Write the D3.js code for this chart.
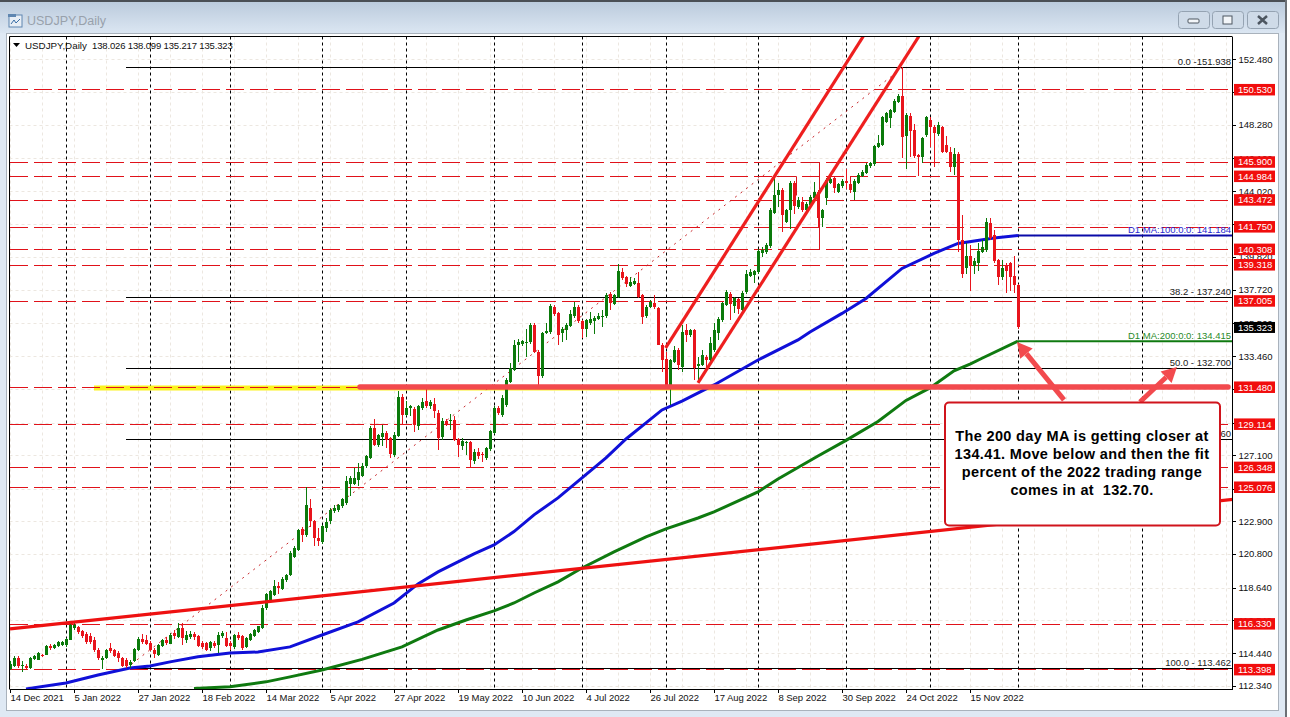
<!DOCTYPE html>
<html>
<head>
<meta charset="utf-8">
<script src="https://cdn.jsdelivr.net/npm/d3@7"></script>
<style>
  html, body { margin: 0; padding: 0; background: #fff; overflow: hidden; }
  svg { display: block; }
  text { font-family: "Liberation Sans", Arial, sans-serif; }
  .tick text { font-size: 9.5px; fill: #111; letter-spacing: -0.05px; }
  .tick line, .domain { stroke: #000; shape-rendering: crispEdges; }
</style>
</head>
<body>
<div id="chart"></div>
<script>
// daily candles, one row = 10 bars
const opens = [
  113.42,113.64,114.13,113.6,113.64,113.49,114.06,114.02,114.34,114.34,
  114.92,114.77,114.92,114.98,114.98,115.3,116.05,116.11,115.83,115.69,
  115.56,115.3,114.66,114.02,114.13,114.77,114.62,114.45,114.13,114.02,
  113.7,113.92,114.66,115.34,115.3,115.09,114.66,114.34,114.92,115.3,
  115.05,115.73,115.47,116.05,115.26,115.47,115.66,115.51,115.09,115.09,
  114.77,115.09,114.98,115.51,115.41,115.09,114.81,115.62,115.51,114.83,
  115.26,115.56,115.77,116.05,117.33,117.86,118.18,118.71,118.54,119.1,
  119.46,120.59,121.06,122.38,122.02,123.73,122.87,121.81,121.55,122.45,
  122.87,123.51,123.62,123.83,124.05,125.29,125.29,125.54,125.8,126.39,
  126.93,128.85,127.78,128.27,128.53,128.21,127.14,128.36,130.87,129.7,
  130.13,130.09,129.0,130.13,130.55,130.23,130.41,129.81,128.27,129.27,
  129.27,129.38,128.14,127.67,127.89,127.93,126.71,127.33,127.2,126.93,
  127.5,128.53,130.13,129.7,130.34,131.83,132.58,134.18,134.25,134.29,
  134.33,135.46,133.75,132.16,134.93,134.97,136.63,136.21,134.93,135.1,
  135.4,136.0,136.57,135.68,135.18,135.57,135.68,135.85,135.93,136.0,
  137.45,136.81,137.27,138.87,138.51,137.96,138.09,138.13,137.38,136.0,
  136.63,136.85,136.53,134.18,133.29,131.62,133.11,133.86,132.79,135.14,
  134.78,135.1,132.8,132.9,133.43,133.22,133.86,134.93,135.78,136.74,
  137.45,136.68,137.1,136.42,137.53,138.6,138.66,138.81,140.05,140.11,
  140.52,142.65,143.74,144.1,142.07,142.78,144.57,143.03,143.35,142.78,
  143.14,143.57,143.99,142.29,143.57,144.57,144.85,143.99,144.36,144.68,
  144.49,143.99,144.53,144.98,145.21,145.6,145.77,146.83,146.98,148.47,
  148.69,149.11,149.75,150.12,147.56,148.84,147.94,146.34,146.19,147.62,
  148.58,148.15,147.68,148.11,146.98,146.55,145.59,146.4,140.9,139.09,
  139.88,139.2,139.41,140.15,140.26,141.97,141.22,139.58,138.55,139.3,
  139.41,138.6,138.026
];
const highs = [
  113.91,114.24,114.24,113.95,113.77,114.2,114.3,114.5,114.4,114.95,
  115.0,115.05,115.2,115.2,115.4,116.37,116.35,116.2,115.95,115.8,
  115.7,115.45,114.75,114.25,114.7,115.08,114.7,114.55,114.2,114.1,
  114.0,114.75,115.45,115.69,115.62,115.2,114.75,115.05,115.35,115.45,
  115.7,115.95,116.37,116.37,115.83,115.83,115.8,115.6,115.2,115.15,
  115.2,115.2,115.77,115.85,115.77,115.2,115.65,115.77,115.6,115.5,
  115.75,116.0,116.2,117.5,118.3,118.45,119.14,119.0,119.3,119.5,
  120.95,121.3,122.4,122.5,125.07,124.32,122.95,122.45,122.65,123.09,
  123.7,123.95,124.0,124.4,125.76,125.76,126.29,126.61,126.6,127.15,
  128.95,129.42,128.5,129.06,128.65,128.3,128.57,131.2,131.0,130.55,
  130.3,130.2,130.3,130.77,131.34,130.62,130.77,130.0,129.49,129.4,
  129.74,129.6,128.2,128.21,128.0,128.0,127.5,127.57,127.3,127.65,
  128.75,130.25,130.25,130.95,132.05,133.0,134.5,134.54,134.5,135.18,
  135.6,135.57,133.85,135.0,135.57,136.8,136.74,136.3,135.3,135.55,
  136.38,136.95,136.74,135.75,135.85,136.31,136.0,136.21,136.42,137.5,
  137.55,137.45,139.34,139.09,138.6,138.51,138.45,138.81,137.45,136.7,
  137.02,137.38,136.6,134.29,133.75,133.3,134.08,133.95,135.46,135.53,
  135.18,135.2,133.43,133.86,133.55,134.71,135.57,135.95,136.95,137.66,
  137.55,137.25,137.2,137.6,138.98,139.02,139.0,140.3,140.45,140.73,
  142.93,144.95,144.53,144.2,142.9,144.65,144.65,143.67,143.67,143.3,
  143.75,144.63,144.1,142.9,144.85,144.9,144.95,144.55,144.8,145.42,
  144.6,144.8,145.15,145.35,145.8,145.9,147.0,147.62,148.85,149.11,
  149.3,149.9,150.24,151.94,149.0,149.05,148.33,146.4,147.5,148.84,
  148.79,148.25,148.47,148.2,147.56,146.83,146.77,146.55,142.5,140.69,
  140.58,139.73,140.69,140.9,142.29,142.29,141.54,139.7,139.62,139.4,
  139.5,139.88,138.099
];
const lows = [
  113.38,113.55,113.49,113.2,113.34,113.45,114.0,114.0,114.2,114.3,
  114.66,114.7,114.85,114.9,114.85,115.25,115.9,115.65,115.4,115.05,
  115.0,114.5,114.02,113.42,114.05,114.45,114.2,113.9,113.55,113.5,
  113.47,113.85,114.6,115.0,114.95,114.55,114.12,114.25,114.85,114.95,
  115.0,115.35,115.4,114.98,115.09,115.35,115.3,114.8,114.7,114.55,
  114.55,114.75,114.45,115.4,114.85,114.66,114.7,115.3,114.62,114.75,
  115.2,115.5,115.7,116.0,117.2,117.75,118.1,118.2,118.45,119.0,
  119.4,120.5,120.95,121.55,121.9,122.5,121.27,121.27,121.45,122.2,
  122.7,123.4,123.5,123.7,123.95,124.48,125.2,125.12,125.7,126.3,
  126.85,127.7,127.65,127.67,127.57,126.93,127.0,128.3,129.06,129.6,
  129.64,128.57,128.74,130.0,130.15,130.1,129.49,127.46,128.1,129.0,
  128.74,128.0,126.97,127.46,127.14,126.35,126.57,126.9,126.65,126.82,
  127.4,128.45,129.7,129.55,130.2,131.75,132.5,133.1,134.1,133.43,
  134.2,133.65,131.62,132.05,134.85,134.9,136.05,134.18,134.39,134.5,
  135.3,135.9,135.6,134.61,134.71,135.45,134.89,135.75,135.31,135.9,
  136.42,136.7,137.15,138.35,137.87,137.85,138.0,137.15,135.53,135.9,
  136.55,136.5,134.14,132.47,131.5,130.34,133.0,132.58,132.47,134.39,
  134.65,131.94,131.73,132.8,132.58,133.1,133.75,134.5,135.65,136.65,
  135.78,136.21,136.17,136.3,137.45,138.5,138.13,138.7,139.83,140.0,
  140.4,142.55,143.03,141.43,141.95,141.58,142.57,142.9,142.7,142.65,
  143.0,143.45,141.71,141.75,143.14,144.45,143.89,143.9,144.25,144.14,
  143.89,143.46,144.45,144.9,145.1,145.5,145.65,146.75,146.9,148.35,
  148.05,149.0,149.65,146.13,145.42,146.23,146.15,144.97,145.85,147.5,
  146.87,145.59,147.55,146.45,146.45,145.27,145.06,140.15,138.45,138.73,
  137.6,138.73,138.88,140.05,140.15,140.9,139.4,138.02,138.34,137.49,
  137.6,137.49,135.217
];
const closes = [
  113.77,114.13,113.6,113.7,113.49,114.13,114.24,114.45,114.28,114.92,
  114.77,114.98,115.15,115.15,115.34,116.22,116.22,115.77,115.56,115.15,
  115.15,114.62,114.13,114.13,114.66,114.55,114.28,114.13,113.64,113.6,
  113.85,114.7,115.37,115.15,115.05,114.66,114.4,114.98,115.26,115.09,
  115.62,115.51,116.05,115.41,115.62,115.69,115.45,114.87,114.81,114.66,
  115.13,114.87,115.62,115.73,114.92,114.87,115.58,115.41,114.77,115.41,
  115.69,115.9,116.15,117.33,118.22,118.39,118.76,118.61,119.18,119.46,
  120.85,121.17,122.34,122.02,123.94,122.87,121.81,121.6,122.55,122.81,
  123.62,123.73,123.94,124.3,125.43,125.65,125.65,126.01,126.44,127.03,
  128.85,127.78,128.42,128.53,128.1,127.2,128.42,130.87,129.7,130.13,
  130.23,129.06,130.23,130.49,130.28,130.49,129.91,128.21,129.27,129.13,
  129.38,128.1,127.78,127.99,127.93,126.82,127.31,127.03,127.12,127.57,
  128.63,130.13,129.81,130.77,131.94,132.69,134.18,134.39,134.4,134.39,
  135.46,133.75,132.16,134.93,135.08,136.68,136.17,134.82,135.21,135.46,
  136.17,136.63,135.72,135.18,135.74,135.82,135.89,136.0,136.0,137.38,
  136.85,137.38,138.92,138.45,138.09,138.23,138.28,137.27,135.95,136.63,
  136.95,136.59,134.18,133.18,131.62,133.18,133.86,132.9,135.03,134.82,
  135.14,132.69,132.94,133.54,133.22,134.29,135.1,135.85,136.85,137.53,
  136.78,137.17,136.46,137.49,138.73,138.83,138.92,140.2,140.26,140.58,
  142.78,143.78,144.1,142.5,142.82,144.57,143.08,143.46,142.82,143.21,
  143.67,143.99,142.29,142.82,144.74,144.78,144.21,144.46,144.7,144.53,
  144.06,144.7,145.06,145.27,145.7,145.81,146.92,147.13,148.75,149.01,
  149.22,149.82,150.12,147.51,148.9,147.9,146.28,146.23,147.41,148.75,
  148.11,147.77,148.26,146.55,146.55,145.59,146.4,140.86,138.73,139.88,
  139.2,139.52,140.2,140.47,142.07,141.01,139.52,138.55,139.09,138.88,
  138.55,138.02,135.323
];

// moving averages as [bar, price]
const ma100 = [[4,112.15],[14,112.53],[22,113.04],[30,113.49],[35,113.62],[40,113.88],[47,114.2],[55,114.45],[62,114.51],[70,114.84],[78,115.6],[87,116.44],[96,117.65],[102,118.87],[107,119.64],[116,120.79],[121,121.37],[126,122.22],[131,123.29],[137,124.38],[143,125.66],[149,126.94],[154,128.15],[159,129.18],[163,130.01],[168,130.58],[176,131.61],[187,133.21],[197,134.49],[200,135.0],[208,136.19],[214,137.15],[223,139.07],[231,140.03],[237,140.67],[246,141.02],[252,141.184]];
const ma200 = [[46,112.17],[55,112.28],[64,112.6],[70,112.92],[78,113.36],[88,114.04],[98,114.84],[107,115.92],[114,116.56],[121,117.14],[126,117.65],[131,118.29],[137,119.0],[143,119.89],[151,120.92],[159,121.88],[164,122.39],[172,123.09],[176,123.48],[187,124.76],[192,125.59],[202,127.06],[209,128.06],[217,129.27],[224,130.62],[230,131.42],[236,132.51],[240,132.95],[243,133.32],[252,134.415]];

const timeTickBars = [0,16,32,48,64,80,96,112,128,144,160,176,192,208,224,240];
const timeLabels = ["14 Dec 2021","5 Jan 2022","27 Jan 2022","18 Feb 2022","14 Mar 2022","5 Apr 2022","27 Apr 2022","19 May 2022","10 Jun 2022","4 Jul 2022","26 Jul 2022","17 Aug 2022","8 Sep 2022","30 Sep 2022","24 Oct 2022","15 Nov 2022"];
const monthStartBars = [14,35,55,78,99,121,143,164,187,209,230,252,283];
const gridBars = d3.range(0, 305, 8);

const priceTicks = [152.48,150.38,148.28,146.12,144.02,141.92,139.82,137.72,135.56,133.46,131.36,129.2,127.1,124.94,122.9,120.8,118.64,116.54,114.44,112.34];
const redLevels = [150.53,145.9,144.984,143.472,141.75,140.308,139.318,137.005,131.48,129.114,126.348,125.076,116.33,113.398];

const fibLevels = [151.938,137.24,132.7,128.16,113.462];
const fibLabels = ["0.0 -151.938","38.2 - 137.240","50.0 - 132.700","61.8 - 128.160","100.0 - 113.462"];

const lastBar = 305.75;
const fibStartBar = 29;

// hand drawn objects as [bar1, price1, bar2, price2]
const fibDiagonal = [29, 113.462, 223.25, 151.938];
const trendline = [0, 115.99, lastBar, 124.28];
const channelTop = [163.9, 133.98, 213.3, 153.92];
const channelBottom = [172, 131.74, 227.2, 153.92];
const boxLines = [
  [202.25,145.9,202.25,140.308],[196.5,144.984,196.5,143.75],[210,144.984,210,144.05],
  [197.5,145.9,202.25,145.9],[198.25,140.308,202.25,140.308],[191.5,144.984,196.5,144.984],[210,144.984,213,144.984]
];
const levelLine = [87.5, 131.48, 304.5, 131.48];
const yellowLine = [21, 131.42, 229, 131.42];
const arrows = [[263.5,130.65,251.75,134.36],[282.5,130.52,291.75,132.76]];

const noteLines = ["The 200 day MA is getting closer at","134.41. Move below and then the fit","percent of the 2022 trading range","comes in at  132.70."];

const width = 1290, height = 717;
const plot = { left: 9.5, right: 1232.5, top: 36.5, bottom: 689.5 };

const candles = opens.map((o, i) => ({ i, o, h: highs[i], l: lows[i], c: closes[i] }));

const svg = d3.select("#chart").append("svg")
  .attr("width", width).attr("height", height).attr("viewBox", `0 0 ${width} ${height}`);

// window frame
const defs = svg.append("defs");
const titleGrad = defs.append("linearGradient").attr("id", "titleGrad").attr("x1", 0).attr("x2", 0).attr("y1", 0).attr("y2", 1);
titleGrad.append("stop").attr("offset", "0%").attr("stop-color", "#b9c9db");
titleGrad.append("stop").attr("offset", "100%").attr("stop-color", "#dbe6f2");

defs.append("clipPath").attr("id", "plotClip").append("rect")
  .attr("x", plot.left).attr("y", plot.top)
  .attr("width", plot.right - plot.left).attr("height", plot.bottom - plot.top);

svg.append("rect").attr("width", width).attr("height", height).attr("fill", "#dfe9f4");
svg.append("rect").attr("x", 1287).attr("width", 3).attr("height", height).attr("fill", "#fff");
svg.append("rect").attr("width", 1287).attr("height", 33).attr("fill", "url(#titleGrad)");
svg.append("rect").attr("width", 1287).attr("height", 2).attr("fill", "#4a4f55");
svg.append("rect").attr("x", 1285).attr("width", 2).attr("height", height).attr("fill", "#6b7076");
svg.append("rect").attr("x", 6.5).attr("y", 33.5).attr("width", 1272).attr("height", 677)
  .attr("fill", "#fff").attr("stroke", "#a9b2bc");

// title bar
const icon = svg.append("g").attr("transform", "translate(8,14)");
icon.append("rect").attr("width", 13).attr("height", 12).attr("x", 1).attr("y", 1).attr("fill", "#e8eef5").attr("stroke", "#5f86b0");
icon.append("rect").attr("width", 8).attr("height", 3).attr("x", 0).attr("y", 0).attr("fill", "#5f86b0");
icon.append("path").attr("d", "M3 10 L6 6 L8 9 L12 5").attr("fill", "none").attr("stroke", "#3a6ea5");
svg.append("text").attr("x", 27).attr("y", 25).attr("font-size", 12.5).attr("fill", "#98a1ab").text("USDJPY,Daily");

const winButtons = [1178, 1212, 1247];
winButtons.forEach(bx => {
  svg.append("rect").attr("x", bx + 0.5).attr("y", 11.5).attr("width", 31).attr("height", 17).attr("rx", 3)
    .attr("fill", "#cfdbe8").attr("stroke", "#95a3b2");
});
svg.append("rect").attr("x", 1188).attr("y", 19).attr("width", 11).attr("height", 4).attr("rx", 1).attr("fill", "#f3f6f9").attr("stroke", "#4d5660");
svg.append("rect").attr("x", 1223).attr("y", 16).attr("width", 9).attr("height", 8).attr("fill", "#f3f6f9").attr("stroke", "#4d5660");
svg.append("path").attr("d", "M1258 16 L1267 24 M1267 16 L1258 24").attr("stroke", "#4d5660").attr("stroke-width", 2.5);

// scales
const x = d3.scaleLinear().domain([0, 252]).range([10, 1018]);
const y = d3.scaleLinear().domain([112.11, 153.92]).range([plot.bottom, plot.top]);

const g = svg.append("g").attr("clip-path", "url(#plotClip)");

function addLine(parent, s) {
  return parent.append("line")
    .attr("x1", x(s[0])).attr("y1", y(s[1]))
    .attr("x2", x(s[2])).attr("y2", y(s[3]));
}

// faint grid
g.append("g").selectAll("line").data(gridBars).join("line")
  .attr("x1", d => x(d) + 0.5).attr("x2", d => x(d) + 0.5)
  .attr("y1", plot.top).attr("y2", plot.bottom)
  .attr("stroke", "#ece7e0").attr("stroke-dasharray", "3 3");
g.append("g").selectAll("line").data(priceTicks).join("line")
  .attr("x1", plot.left).attr("x2", plot.right)
  .attr("y1", d => Math.round(y(d)) + 0.5).attr("y2", d => Math.round(y(d)) + 0.5)
  .attr("stroke", "#ece7e0").attr("stroke-dasharray", "3 3");

// month separators
g.append("g").selectAll("line").data(monthStartBars).join("line")
  .attr("x1", d => x(d) + 0.5).attr("x2", d => x(d) + 0.5)
  .attr("y1", plot.top).attr("y2", plot.bottom)
  .attr("stroke", "#000").attr("stroke-dasharray", "3 3");

// yellow highlight sits under the dashed level
addLine(g, yellowLine).attr("stroke", "#fbf21e").attr("stroke-width", 5);

// red dashed levels
g.append("g").selectAll("line").data(redLevels).join("line")
  .attr("x1", x(0)).attr("x2", plot.right)
  .attr("y1", d => Math.round(y(d)) + 0.5).attr("y2", d => Math.round(y(d)) + 0.5)
  .attr("stroke", "#e0121a").attr("stroke-width", 1.2).attr("stroke-dasharray", "18 6");

// fibonacci levels and diagonal
g.append("g").selectAll("line").data(fibLevels).join("line")
  .attr("x1", x(fibStartBar)).attr("x2", plot.right)
  .attr("y1", d => Math.round(y(d)) + 0.5).attr("y2", d => Math.round(y(d)) + 0.5)
  .attr("stroke", "#000");
addLine(g, fibDiagonal).attr("stroke", "#c8282c").attr("stroke-dasharray", "2 5");

// red box outlines near the sep highs
g.append("g").selectAll("line").data(boxLines).join("line")
  .attr("x1", d => x(d[0]) + 0.5).attr("y1", d => Math.round(y(d[1])) + 0.5)
  .attr("x2", d => x(d[2]) + 0.5).attr("y2", d => Math.round(y(d[3])) + 0.5)
  .attr("stroke", "#d8141c");

// moving averages and their flat extensions
const maLine = d3.line().x(d => x(d[0])).y(d => y(d[1]));
g.append("path").datum(ma100).attr("d", maLine).attr("fill", "none").attr("stroke", "#1010d8").attr("stroke-width", 3);
g.append("path").datum(ma200).attr("d", maLine).attr("fill", "none").attr("stroke", "#0f7a10").attr("stroke-width", 3);
addLine(g, [252, 141.184, lastBar, 141.184]).attr("stroke", "#0a0aa8").attr("stroke-width", 2);
addLine(g, [252, 134.415, lastBar, 134.415]).attr("stroke", "#0f7a10").attr("stroke-width", 2);

// candles
const barColor = d => d.c >= d.o ? "#0b7a0b" : "#e8141c";
const cg = g.append("g").attr("shape-rendering", "crispEdges");
cg.selectAll("rect.wick").data(candles).join("rect")
  .attr("class", "wick")
  .attr("x", d => x(d.i)).attr("width", 1)
  .attr("y", d => y(d.h)).attr("height", d => y(d.l) - y(d.h))
  .attr("fill", barColor);
cg.selectAll("rect.body").data(candles).join("rect")
  .attr("class", "body")
  .attr("x", d => x(d.i) - 1).attr("width", 3)
  .attr("y", d => y(Math.max(d.o, d.c)))
  .attr("height", d => Math.max(1, Math.abs(y(d.o) - y(d.c))))
  .attr("fill", barColor);

// drawn trend lines
addLine(g, trendline).attr("stroke", "#ee1111").attr("stroke-width", 3.2);
addLine(g, channelTop).attr("stroke", "#ee1f1f").attr("stroke-width", 3.2);
addLine(g, channelBottom).attr("stroke", "#ee1f1f").attr("stroke-width", 3.2);
addLine(g, levelLine).attr("stroke", "#f24a4e").attr("stroke-width", 5.5).attr("stroke-linecap", "round");

// axes
const xAxis = d3.axisBottom(x).tickValues(timeTickBars).tickFormat((d, i) => timeLabels[i]).tickSize(3).tickSizeOuter(0);
const xAxisG = svg.append("g").attr("transform", `translate(0,${plot.bottom})`).call(xAxis);
xAxisG.select(".domain").attr("d", `M${plot.left},0H${plot.right}`);
xAxisG.selectAll("text").attr("text-anchor", "start").attr("x", 0).attr("y", 5).attr("dy", "0.71em");

const yAxis = d3.axisRight(y).tickValues(priceTicks).tickFormat(d3.format(".3f")).tickSize(3).tickSizeOuter(0);
const yAxisG = svg.append("g").attr("transform", `translate(${plot.right},0)`).call(yAxis);
yAxisG.select(".domain").attr("d", `M0,${plot.top}V${plot.bottom}`);
yAxisG.selectAll("text").attr("x", 6);

svg.append("line").attr("x1", plot.left).attr("x2", plot.left).attr("y1", plot.top).attr("y2", plot.bottom).attr("stroke", "#000");
svg.append("line").attr("x1", plot.left).attr("x2", plot.right).attr("y1", plot.top).attr("y2", plot.top).attr("stroke", "#000");

// price flags on the right
const flags = svg.append("g");
flags.selectAll("rect").data(redLevels).join("rect")
  .attr("x", 1234).attr("width", 41).attr("height", 11.5)
  .attr("y", d => y(d) - 5.5).attr("fill", "#f10d0d");
flags.selectAll("text").data(redLevels).join("text")
  .attr("x", 1238).attr("y", d => y(d) + 3.6)
  .attr("font-size", 9.5).attr("fill", "#fff")
  .text(d => d3.format(".3f")(d));
const lastPrice = closes[closes.length - 1];
flags.append("rect").attr("x", 1234).attr("width", 41).attr("height", 11).attr("y", y(lastPrice) - 5).attr("fill", "#000");
flags.append("text").attr("x", 1238).attr("y", y(lastPrice) + 4)
  .attr("font-size", 9.5).attr("fill", "#fff").text(d3.format(".3f")(lastPrice));

// chart header
svg.append("path").attr("d", "M13 43 H20 L16.5 47 Z").attr("fill", "#000");
svg.append("text").attr("x", 25).attr("y", 48.5).attr("font-size", 9.8).attr("fill", "#111").text("USDJPY,Daily");
svg.append("text").attr("x", 92).attr("y", 48.5).attr("font-size", 9.5).attr("letter-spacing", "-0.15").attr("fill", "#111")
  .text(`${opens[252].toFixed(3)} ${highs[252].toFixed(3)} ${lows[252].toFixed(3)} ${closes[252].toFixed(3)}`);

// line labels, right aligned at the plot edge
const labelG = svg.append("g").attr("text-anchor", "end").attr("font-size", 9.5);
fibLevels.forEach((lv, i) => {
  labelG.append("text").attr("x", 1231).attr("y", y(lv) - 2).attr("fill", "#222").text(fibLabels[i]);
});
labelG.append("text").attr("x", 1231).attr("y", y(141.184) - 2).attr("fill", "#2a2ad0").text("D1 MA:100:0:0: 141.184");
labelG.append("text").attr("x", 1231).attr("y", y(134.415) - 2).attr("fill", "#2a8a2a").text("D1 MA:200:0:0: 134.415");

// callout arrows
arrows.forEach(a => {
  const x0 = x(a[0]), y0 = y(a[1]), x1 = x(a[2]), y1 = y(a[3]);
  const ang = Math.atan2(y1 - y0, x1 - x0);
  const headLen = 15, headHalf = 8;
  const bx = x1 - headLen * Math.cos(ang), by = y1 - headLen * Math.sin(ang);
  const nx = -Math.sin(ang) * headHalf, ny = Math.cos(ang) * headHalf;
  svg.append("line").attr("x1", x0).attr("y1", y0).attr("x2", bx).attr("y2", by)
    .attr("stroke", "#f24a4e").attr("stroke-width", 5);
  svg.append("polygon")
    .attr("points", `${x1},${y1} ${bx + nx},${by + ny} ${bx - nx},${by - ny}`)
    .attr("fill", "#f24a4e");
});

// callout box
svg.append("rect").attr("x", 945).attr("y", 402.5).attr("width", 275).attr("height", 123).attr("rx", 4)
  .attr("fill", "#fff").attr("stroke", "#d0141c").attr("stroke-width", 2);
svg.append("g").selectAll("text").data(noteLines).join("text")
  .attr("x", 1082).attr("y", (d, i) => 441 + i * 18)
  .attr("text-anchor", "middle").attr("font-size", 14.5).attr("font-weight", "bold").attr("letter-spacing", "0.35").attr("fill", "#000")
  .style("white-space", "pre")
  .text(d => d);
</script>
</body>
</html>
